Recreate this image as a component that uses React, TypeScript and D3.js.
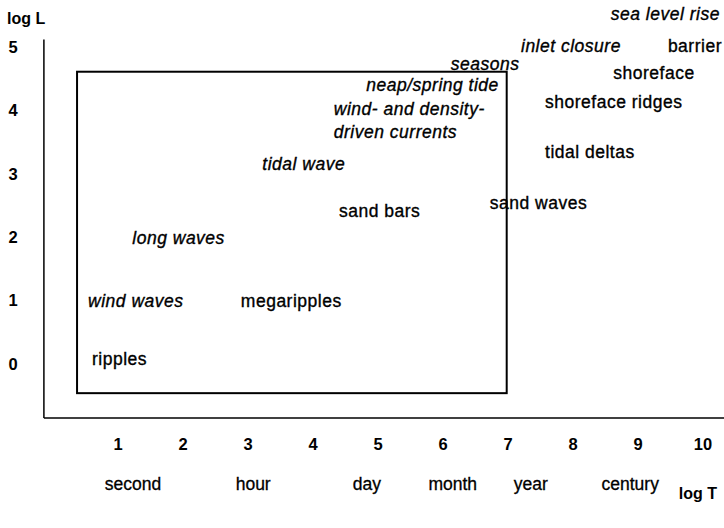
import React from 'react';
import * as d3 from 'd3';

// phenomena / morphology labels placed on the (log T, log L) plane
const labelNames = [
  'sea level rise', 'inlet closure', 'barrier', 'seasons', 'shoreface',
  'neap/spring tide', 'shoreface ridges', 'wind- and density-', 'driven currents',
  'tidal deltas', 'tidal wave', 'sand waves', 'sand bars', 'long waves',
  'wind waves', 'megaripples', 'ripples',
];
const labelLogT = [10.26, 7.2, 9.46, 6.12, 8.62, 4.82, 7.57, 4.32, 4.32, 7.57, 3.22, 6.72, 4.4, 1.22, 0.54, 2.89, 0.6];
const labelLogL = [5.52, 5.02, 5.02, 4.73, 4.59, 4.4, 4.13, 4.02, 3.66, 3.34, 3.15, 2.54, 2.41, 1.99, 0.99, 0.99, 0.08];
const labelItalic = [true, true, false, true, false, true, false, true, true, false, true, false, false, true, true, false, false];

const xTicks = [1, 2, 3, 4, 5, 6, 7, 8, 9, 10];
const yTicks = [0, 1, 2, 3, 4, 5];
const timeNames = ['second', 'hour', 'day', 'month', 'year', 'century'];
const timeLogT = [1.23, 3.08, 4.83, 6.15, 7.35, 8.88];

// coastal-system box extents (log T, log L)
const boxT = [0.37, 6.98];
const boxL = [-0.46, 4.61];

const width = 724;
const height = 528;

export default function App() {
  const x = d3.scaleLinear().domain([0, 10]).range([53, 703]);
  const y = d3.scaleLinear().domain([0, 5]).range([364, 47]);
  const font = 'Liberation Sans, Arial, sans-serif';

  const axisX = x(-0.14);
  const axisY = y(-0.85);

  return (
    <svg width={width} height={height} style={{ position: 'absolute', left: 0, top: 0, background: '#fff' }} fontFamily={font}>
      {/* axes */}
      <line x1={axisX} y1={y(5.12)} x2={axisX} y2={axisY} stroke="#000" strokeWidth={1.5} />
      <line x1={axisX} y1={axisY} x2={width} y2={axisY} stroke="#000" strokeWidth={1.5} />

      {/* box */}
      <rect
        x={x(boxT[0])}
        y={y(boxL[1])}
        width={x(boxT[1]) - x(boxT[0])}
        height={y(boxL[0]) - y(boxL[1])}
        fill="none"
        stroke="#000"
        strokeWidth={2}
      />

      {/* y ticks */}
      {yTicks.map((t) => (
        <text key={'y' + t} x={13} y={y(t)} dy="0.35em" textAnchor="middle" fontWeight="bold" fontSize={16.5}>
          {t}
        </text>
      ))}
      <text x={7} y={18} dy="0.35em" fontWeight="bold" fontSize={16}>log L</text>

      {/* x ticks */}
      {xTicks.map((t) => (
        <text key={'x' + t} x={x(t)} y={444} dy="0.35em" textAnchor="middle" fontWeight="bold" fontSize={16.5}>
          {t}
        </text>
      ))}
      {timeNames.map((n, i) => (
        <text key={n} x={x(timeLogT[i])} y={484} dy="0.35em" textAnchor="middle" fontSize={17.5} stroke="#000" strokeWidth={0.3}>
          {n}
        </text>
      ))}
      <text x={717} y={493} dy="0.35em" textAnchor="end" fontWeight="bold" fontSize={16}>log T</text>

      {/* labels */}
      {labelNames.map((n, i) => (
        <text
          key={n}
          x={x(labelLogT[i])}
          y={y(labelLogL[i])}
          dy="0.35em"
          textAnchor={i === 0 ? 'end' : 'start'}
          fontStyle={labelItalic[i] ? 'italic' : 'normal'}
          fontSize={17.5}
          letterSpacing={0.5}
          stroke="#000"
          strokeWidth={0.35}
        >
          {n}
        </text>
      ))}
    </svg>
  );
}
